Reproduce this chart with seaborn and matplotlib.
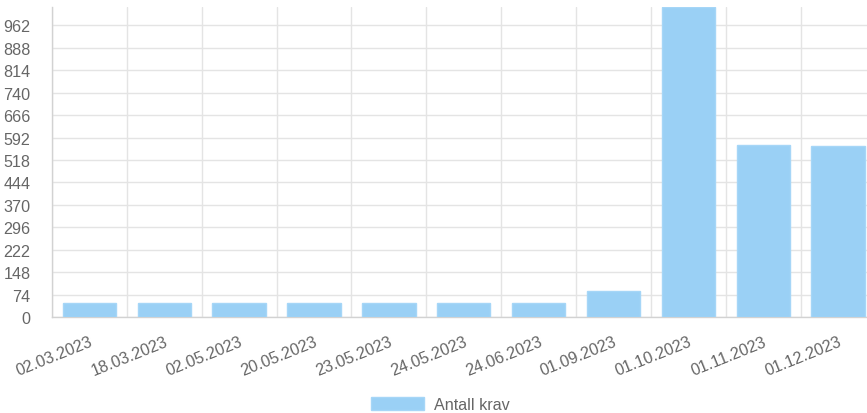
import numpy as np
import pandas as pd
import matplotlib
matplotlib.use('Agg')
import matplotlib.pyplot as plt
import seaborn as sns
from matplotlib.patches import Patch

# Chart data
dates = ['02.03.2023', '18.03.2023', '02.05.2023', '20.05.2023', '23.05.2023',
         '24.05.2023', '24.06.2023', '01.09.2023', '01.10.2023', '01.11.2023',
         '01.12.2023']
antall_krav = [46, 46, 46, 46, 46, 46, 46, 85, 1022, 567, 563]
y_ticks = [0, 74, 148, 222, 296, 370, 444, 518, 592, 666, 740, 814, 888, 962]
series_name = 'Antall krav'

df = pd.DataFrame({'Dato': dates, 'Antall': antall_krav})

sns.set_style('white')
plt.rcParams['font.family'] = ['Liberation Sans', 'DejaVu Sans']

bar_color = '#9ad0f5'
grid_color = '#e4e4e4'
text_color = '#666666'
fsize = 11.6

fig = plt.figure(figsize=(8.67, 4.14), dpi=100)
# right edge of the canvas is cut off in the reference, so the axes run past it
ax = fig.add_axes([52 / 867, 1 - 318.3 / 414, 823.5 / 867, 310.3 / 414])

sns.barplot(data=df, x='Dato', y='Antall', color=bar_color, saturation=1,
            width=0.713, edgecolor='#a6d6f7', linewidth=1, ax=ax, zorder=3)

ax.set_xlim(-0.5, len(dates) - 0.5)
ax.set_ylim(0, max(antall_krav))
ax.set_xlabel('')
ax.set_ylabel('')

# y axis
ax.set_yticks(y_ticks)
ax.set_yticklabels([str(v) for v in y_ticks])
ax.tick_params(axis='y', which='major', length=12, width=1, color=grid_color,
               pad=3.5, labelsize=fsize, labelcolor=text_color, direction='out')
ax.yaxis.grid(True, color=grid_color, linewidth=1, zorder=0)

# x axis: labels at category centres, grid at category boundaries
ax.set_xticks(range(len(dates)))
ax.set_xticks(np.arange(-0.5, len(dates), 1), minor=True)
ax.tick_params(axis='x', which='major', length=0, pad=12, labelsize=fsize,
               labelcolor=text_color)
ax.tick_params(axis='x', which='minor', length=10, width=1, color=grid_color,
               direction='out')
ax.xaxis.grid(True, which='minor', color=grid_color, linewidth=1, zorder=0)
ax.xaxis.grid(False, which='major')
for lbl in ax.get_xticklabels():
    lbl.set_rotation(22)
    lbl.set_rotation_mode('anchor')
    lbl.set_ha('right')
    lbl.set_va('top')

for side in ['top', 'right']:
    ax.spines[side].set_visible(False)
for side in ['left', 'bottom']:
    ax.spines[side].set_color('#d2d2d2')
    ax.spines[side].set_linewidth(1)
ax.set_axisbelow(True)

handle = Patch(facecolor=bar_color, edgecolor='#a6d6f7', linewidth=1)
fig.legend([handle], [series_name], loc='center',
           bbox_to_anchor=(440 / 867, 1 - 405.5 / 414), frameon=False,
           fontsize=fsize, handlelength=3.3, handleheight=0.8,
           handletextpad=0.6, borderpad=0, labelcolor=text_color)

fig.savefig('out.png', dpi=100)
